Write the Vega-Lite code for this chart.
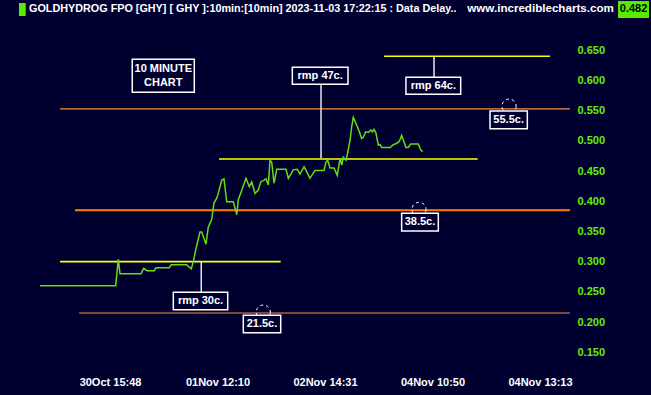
{
  "$schema": "https://vega.github.io/schema/vega-lite/v6.json",
  "width": 570,
  "height": 345,
  "autosize": {"type": "none"},
  "padding": {"left": 0, "top": 20, "right": 81, "bottom": 30},
  "background": "#000030",
  "config": {"view": {"stroke": null}, "font": "Liberation Sans"},
  "resolve": {"axis": {"x": "independent", "y": "independent"}},
  "datasets": {
    "price": [
      {"i": 34.9, "v": 0.26}, {"i": 105.3, "v": 0.26}, {"i": 107.7, "v": 0.304}, {"i": 109.3, "v": 0.28},
      {"i": 128.8, "v": 0.28}, {"i": 131.3, "v": 0.289}, {"i": 134.4, "v": 0.285}, {"i": 141.2, "v": 0.285},
      {"i": 142.8, "v": 0.29}, {"i": 155.2, "v": 0.29}, {"i": 157.0, "v": 0.295}, {"i": 171.3, "v": 0.295},
      {"i": 175.6, "v": 0.288}, {"i": 177.5, "v": 0.30}, {"i": 179.7, "v": 0.319}, {"i": 183.7, "v": 0.349},
      {"i": 185.3, "v": 0.349}, {"i": 189.3, "v": 0.329}, {"i": 191.4, "v": 0.357}, {"i": 194.6, "v": 0.37},
      {"i": 196.7, "v": 0.397}, {"i": 199.3, "v": 0.405}, {"i": 200.7, "v": 0.413}, {"i": 203.9, "v": 0.435},
      {"i": 206.0, "v": 0.437}, {"i": 208.6, "v": 0.399}, {"i": 214.7, "v": 0.399}, {"i": 217.9, "v": 0.378},
      {"i": 219.4, "v": 0.403}, {"i": 222.5, "v": 0.418}, {"i": 226.5, "v": 0.438}, {"i": 229.6, "v": 0.424},
      {"i": 231.8, "v": 0.432}, {"i": 234.9, "v": 0.413}, {"i": 238.0, "v": 0.419}, {"i": 240.2, "v": 0.432},
      {"i": 243.3, "v": 0.435}, {"i": 245.1, "v": 0.437}, {"i": 247.3, "v": 0.427}, {"i": 248.8, "v": 0.468},
      {"i": 250.4, "v": 0.465}, {"i": 252.6, "v": 0.43}, {"i": 255.1, "v": 0.453}, {"i": 263.7, "v": 0.453},
      {"i": 265.9, "v": 0.438}, {"i": 270.5, "v": 0.452}, {"i": 274.2, "v": 0.453}, {"i": 276.7, "v": 0.445},
      {"i": 280.5, "v": 0.457}, {"i": 283.0, "v": 0.449}, {"i": 286.0, "v": 0.438}, {"i": 290.7, "v": 0.451},
      {"i": 299.1, "v": 0.451}, {"i": 300.9, "v": 0.465}, {"i": 302.5, "v": 0.468}, {"i": 304.7, "v": 0.455},
      {"i": 308.4, "v": 0.455}, {"i": 311.4, "v": 0.443}, {"i": 314.0, "v": 0.471}, {"i": 315.6, "v": 0.46},
      {"i": 317.0, "v": 0.473}, {"i": 319.5, "v": 0.468}, {"i": 320.7, "v": 0.477}, {"i": 323.3, "v": 0.501},
      {"i": 324.8, "v": 0.523}, {"i": 326.3, "v": 0.539}, {"i": 328.8, "v": 0.529}, {"i": 331.9, "v": 0.515},
      {"i": 334.1, "v": 0.504}, {"i": 335.6, "v": 0.506}, {"i": 337.9, "v": 0.515}, {"i": 340.3, "v": 0.514},
      {"i": 342.5, "v": 0.518}, {"i": 344.0, "v": 0.515}, {"i": 345.6, "v": 0.519}, {"i": 347.4, "v": 0.513},
      {"i": 349.6, "v": 0.493}, {"i": 351.2, "v": 0.494}, {"i": 352.7, "v": 0.489}, {"i": 360.5, "v": 0.489},
      {"i": 363.0, "v": 0.493}, {"i": 366.7, "v": 0.496}, {"i": 369.1, "v": 0.499}, {"i": 371.3, "v": 0.509},
      {"i": 373.5, "v": 0.498}, {"i": 375.3, "v": 0.489}, {"i": 377.5, "v": 0.489}, {"i": 379.7, "v": 0.495},
      {"i": 386.8, "v": 0.495}, {"i": 389.0, "v": 0.485}, {"i": 390.9, "v": 0.482}
    ],
    "hlines": [
      {"kind": "support", "v": 0.553, "x1": 53.5, "x2": 527.9},
      {"kind": "major", "v": 0.385, "x1": 67.4, "x2": 527.9},
      {"kind": "support", "v": 0.215, "x1": 71.2, "x2": 527.9},
      {"kind": "rmp", "v": 0.30, "x1": 53.5, "x2": 258.8},
      {"kind": "rmp", "v": 0.47, "x1": 201.4, "x2": 442.0},
      {"kind": "rmp", "v": 0.64, "x1": 354.9, "x2": 509.3}
    ],
    "connectors": [
      {"i": 184.9, "v1": 0.30, "v2": 0.2492},
      {"i": 296.3, "v1": 0.5936, "v2": 0.471},
      {"i": 401.4, "v1": 0.64, "v2": 0.6052}
    ],
    "circles": [
      {"i": 471.2, "v": 0.5575},
      {"i": 387.4, "v": 0.3865},
      {"i": 242.6, "v": 0.2165}
    ],
    "boxes": [
      {"label": "rmp 30c.", "lines": 1, "x1": 158.9, "x2": 209.5, "y1": 0.2204, "y2": 0.2492},
      {"label": "rmp 47c.", "lines": 1, "x1": 269.6, "x2": 321.4, "y1": 0.5936, "y2": 0.6218},
      {"label": "rmp 64c.", "lines": 1, "x1": 375.3, "x2": 426.2, "y1": 0.5771, "y2": 0.6052},
      {"label": "55.5c.", "lines": 1, "x1": 453.5, "x2": 488.2, "y1": 0.5201, "y2": 0.5494},
      {"label": "38.5c.", "lines": 1, "x1": 371.3, "x2": 405.4, "y1": 0.3507, "y2": 0.380},
      {"label": "21.5c.", "lines": 1, "x1": 224.0, "x2": 258.8, "y1": 0.1823, "y2": 0.2112},
      {"label": "10 MINUTE\nCHART", "lines": 2, "x1": 120.7, "x2": 178.4, "y1": 0.5804, "y2": 0.635}
    ],
    "header": [
      {"kind": "title", "i": 24.7, "v": 0.7183, "text": "GOLDHYDROG FPO [GHY] [ GHY ]:10min:[10min]  2023-11-03 17:22:15 : Data Delay.."},
      {"kind": "site", "i": 500.5, "v": 0.7183, "text": "www.incrediblecharts.com"},
      {"kind": "last", "i": 587.0, "v": 0.7175, "text": "0.482"}
    ],
    "headerboxes": [
      {"kind": "indicator", "x1": 15.3, "x2": 21.6, "y1": 0.7067, "y2": 0.7282},
      {"kind": "last", "x1": 572.6, "x2": 601.4, "y1": 0.7034, "y2": 0.7315}
    ]
  },
  "layer": [
    {
      "data": {"name": "hlines"},
      "transform": [{"filter": "datum.kind == 'support'"}],
      "mark": {"type": "rule", "color": "#ff8c3c", "strokeWidth": 1.1},
      "encoding": {
        "x": {
          "field": "x1", "type": "quantitative",
          "scale": {"domain": [-2.33, 527.9], "nice": false, "zero": false},
          "axis": {
            "orient": "bottom", "values": [100, 200, 300, 400, 500],
            "labelExpr": "datum.value == 100 ? '30Oct 15:48' : datum.value == 200 ? '01Nov 12:10' : datum.value == 300 ? '02Nov 14:31' : datum.value == 400 ? '04Nov 10:50' : '04Nov 13:13'",
            "labelColor": "#ffffff", "labelFont": "Liberation Sans", "labelFontWeight": "bold", "labelFontSize": 11,
            "ticks": false, "domain": false, "grid": false, "labelPadding": 11, "title": null, "labelFlush": false
          }
        },
        "x2": {"field": "x2"},
        "y": {
          "field": "v", "type": "quantitative",
          "scale": {"domain": [0.1289, 0.7001], "nice": false, "zero": false},
          "axis": {
            "orient": "right", "values": [0.15, 0.2, 0.25, 0.3, 0.35, 0.4, 0.45, 0.5, 0.55, 0.6, 0.65],
            "format": ".3f", "labelColor": "#66ee00", "labelFont": "Liberation Sans", "labelFontWeight": "bold", "labelFontSize": 11,
            "ticks": false, "domain": false, "grid": false, "labelPadding": 7, "title": null, "labelAlign": "left"
          }
        }
      }
    },
    {
      "data": {"name": "hlines"},
      "transform": [{"filter": "datum.kind == 'major'"}],
      "mark": {"type": "rule", "color": "#ff8000", "strokeWidth": 2},
      "encoding": {
        "x": {"field": "x1", "type": "quantitative", "axis": null},
        "x2": {"field": "x2"},
        "y": {"field": "v", "type": "quantitative", "axis": null}
      }
    },
    {
      "data": {"name": "hlines"},
      "transform": [{"filter": "datum.kind == 'rmp'"}],
      "mark": {"type": "rule", "color": "#ffff00", "strokeWidth": 1.6},
      "encoding": {
        "x": {"field": "x1", "type": "quantitative", "axis": null},
        "x2": {"field": "x2"},
        "y": {"field": "v", "type": "quantitative", "axis": null}
      }
    },
    {
      "data": {"name": "connectors"},
      "mark": {"type": "rule", "color": "#e8e8f4", "strokeWidth": 1.5},
      "encoding": {
        "x": {"field": "i", "type": "quantitative", "axis": null},
        "y": {"field": "v1", "type": "quantitative", "axis": null},
        "y2": {"field": "v2"}
      }
    },
    {
      "data": {"name": "circles"},
      "mark": {"type": "point", "shape": "circle", "filled": false, "color": "#ffffff", "strokeWidth": 1, "strokeDash": [3, 3], "size": 200, "opacity": 1},
      "encoding": {
        "x": {"field": "i", "type": "quantitative", "axis": null},
        "y": {"field": "v", "type": "quantitative", "axis": null}
      }
    },
    {
      "data": {"name": "price"},
      "mark": {"type": "line", "color": "#66dd11", "strokeWidth": 1.5},
      "encoding": {
        "x": {"field": "i", "type": "quantitative", "axis": null},
        "y": {"field": "v", "type": "quantitative", "axis": null}
      }
    },
    {
      "data": {"name": "boxes"},
      "mark": {"type": "rect", "fill": "#000030", "stroke": "#ffffff", "strokeWidth": 1.5},
      "encoding": {
        "x": {"field": "x1", "type": "quantitative", "axis": null},
        "x2": {"field": "x2"},
        "y": {"field": "y1", "type": "quantitative", "axis": null},
        "y2": {"field": "y2"}
      }
    },
    {
      "data": {"name": "boxes"},
      "transform": [
        {"filter": "datum.lines == 1"},
        {"calculate": "(datum.x1 + datum.x2) / 2", "as": "cx"},
        {"calculate": "(datum.y1 + datum.y2) / 2", "as": "cy"}
      ],
      "mark": {"type": "text", "color": "#ffffff", "font": "Liberation Sans", "fontWeight": "bold", "fontSize": 11, "align": "center", "baseline": "middle"},
      "encoding": {
        "x": {"field": "cx", "type": "quantitative", "axis": null},
        "y": {"field": "cy", "type": "quantitative", "axis": null},
        "text": {"field": "label"}
      }
    },
    {
      "data": {"name": "boxes"},
      "transform": [
        {"filter": "datum.lines == 2"},
        {"calculate": "(datum.x1 + datum.x2) / 2", "as": "cx"},
        {"calculate": "(datum.y1 + datum.y2) / 2", "as": "cy"}
      ],
      "mark": {"type": "text", "color": "#ffffff", "font": "Liberation Sans", "fontWeight": "bold", "fontSize": 11, "align": "center", "baseline": "middle", "lineBreak": "\n", "lineHeight": 14, "dy": -7},
      "encoding": {
        "x": {"field": "cx", "type": "quantitative", "axis": null},
        "y": {"field": "cy", "type": "quantitative", "axis": null},
        "text": {"field": "label"}
      }
    },
    {
      "data": {"name": "headerboxes"},
      "mark": {"type": "rect", "fill": "#55ee00"},
      "encoding": {
        "x": {"field": "x1", "type": "quantitative", "axis": null},
        "x2": {"field": "x2"},
        "y": {"field": "y1", "type": "quantitative", "axis": null},
        "y2": {"field": "y2"}
      }
    },
    {
      "data": {"name": "header"},
      "transform": [{"filter": "datum.kind == 'title'"}],
      "mark": {"type": "text", "color": "#ffffff", "font": "Liberation Sans", "fontWeight": "bold", "fontSize": 10.8, "align": "left", "baseline": "middle"},
      "encoding": {
        "x": {"field": "i", "type": "quantitative", "axis": null},
        "y": {"field": "v", "type": "quantitative", "axis": null},
        "text": {"field": "text"}
      }
    },
    {
      "data": {"name": "header"},
      "transform": [{"filter": "datum.kind == 'site'"}],
      "mark": {"type": "text", "color": "#ffffff", "font": "Liberation Sans", "fontWeight": "bold", "fontSize": 11.6, "align": "center", "baseline": "middle"},
      "encoding": {
        "x": {"field": "i", "type": "quantitative", "axis": null},
        "y": {"field": "v", "type": "quantitative", "axis": null},
        "text": {"field": "text"}
      }
    },
    {
      "data": {"name": "header"},
      "transform": [{"filter": "datum.kind == 'last'"}],
      "mark": {"type": "text", "color": "#000000", "font": "Liberation Sans", "fontWeight": "bold", "fontSize": 11, "align": "center", "baseline": "middle"},
      "encoding": {
        "x": {"field": "i", "type": "quantitative", "axis": null},
        "y": {"field": "v", "type": "quantitative", "axis": null},
        "text": {"field": "text"}
      }
    }
  ]
}
